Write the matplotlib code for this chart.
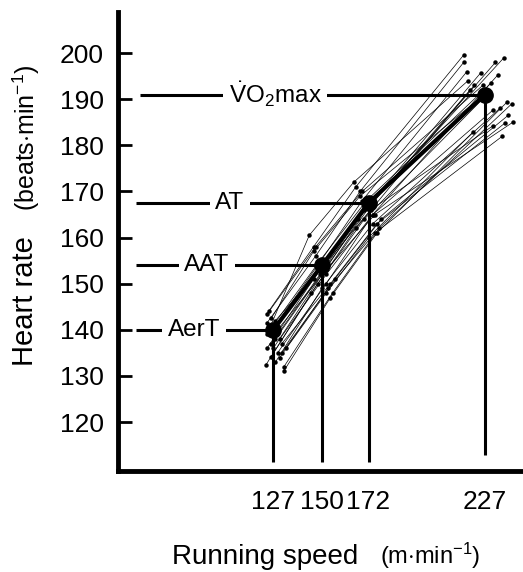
import matplotlib
matplotlib.use("Agg")
import matplotlib.pyplot as plt

plt.rcParams['font.family'] = ['Liberation Sans', 'DejaVu Sans']
plt.rcParams['mathtext.fontset'] = 'custom'
plt.rcParams['mathtext.rm'] = 'Liberation Sans'
plt.rcParams['mathtext.it'] = 'Liberation Sans:italic'

# mean thresholds
thresholds = ["AerT", "AAT", "AT", r"$\dot{\rm V}{\rm O}_2$max"]
speed = [127, 150, 172, 227]
hr = [140, 154, 167.5, 191]

# individual runners: speed and heart rate at AerT, AAT, AT, VO2max
subj_speed = [
    [124, 146, 166, 217],
    [124, 147, 168, 217],
    [125, 148, 169, 218.5],
    [126, 149, 170, 225],
    [128, 151, 173, 232],
    [127, 150, 172, 236],
    [129, 152, 174, 233],
    [124, 146, 167, 222],
    [123.5, 145, 166, 220],
    [132, 154, 176, 237.5],
    [132, 155, 177, 239.7],
    [130, 152, 174, 230.7],
    [131, 154, 176, 236.4],
    [129, 152, 175, 240.2],
    [128, 151, 173, 230.7],
    [131, 153, 175, 235.3],
    [130, 152, 172, 221.4],
    [126, 148, 170, 228],
    [125, 147, 169, 226],
    [127, 149, 171, 230],
    [124, 144, 165, 219],
    [128, 150, 174, 234],
    [133, 156, 178, 238],
    [126, 146, 168, 224],
]
subj_hr = [
    [143.5, 158, 171, 199.6],
    [141.5, 156, 170, 198],
    [139, 154, 168, 196],
    [137, 152, 166, 195.7],
    [138, 153, 167, 198],
    [136, 152, 167, 199],
    [135, 150, 165, 195.2],
    [136, 151, 164, 193],
    [132.4, 148, 162, 192],
    [131.1, 147, 161, 189.4],
    [132, 148, 162, 189],
    [138, 152, 165, 187.6],
    [137, 150, 163, 184.8],
    [140, 153, 165, 185],
    [142, 154, 166, 184.2],
    [135, 149, 161, 182],
    [134, 148, 160, 182.9],
    [134.2, 150, 164, 191],
    [144, 158, 170, 193],
    [141, 155, 168, 193.5],
    [139, 160.5, 172, 194],
    [133, 149, 163, 188],
    [136, 151, 164, 186.5],
    [142.5, 157, 169, 190],
]

# label placement (layout only)
label_x = [89.5, 95.6, 106.5, 127.8]
line_start = [62, 62, 62, 64]
drop_bottom = [111.3, 111.3, 111.3, 112.8]

fig = plt.figure(figsize=(5.23, 5.72), dpi=100)
ax = fig.add_axes([118 / 523, 101 / 572, 1 - 118 / 523, 459 / 572])

for xs, ys in zip(subj_speed, subj_hr):
    ax.plot(xs, ys, color='black', lw=0.5, marker='o', ms=2.2, zorder=2)

ax.plot(speed, hr, color='black', lw=3, zorder=3)
ax.plot(speed, hr, 'o', color='black', ms=11, zorder=4)

for i in range(4):
    ax.vlines(speed[i], drop_bottom[i], hr[i], color='black', lw=2.2, zorder=3)
    ax.hlines(hr[i], line_start[i], speed[i], color='black', lw=2.2, zorder=3)
    ax.text(label_x[i], hr[i], thresholds[i], fontsize=17.5, ha='center', va='center',
            bbox=dict(facecolor='white', edgecolor='none', pad=4), zorder=5)

ax.set_xlim(53.6, 245)
ax.set_ylim(109.4, 208.9)
ax.set_yticks(range(120, 201, 10))
ax.set_xticks(speed)
ax.tick_params(axis='y', direction='in', length=10, width=2, pad=10, labelsize=19)
ax.tick_params(axis='x', length=0, pad=14, labelsize=19)
for s in ['top', 'right']:
    ax.spines[s].set_visible(False)
for s in ['left', 'bottom']:
    ax.spines[s].set_linewidth(3.5)

fig.text(172 / 523, 0.014, "Running speed", fontsize=20, ha='left', va='baseline')
fig.text(380 / 523, 0.014, r"(m$\cdot$min$^{-1}$)", fontsize=17, ha='left', va='baseline')
fig.text(11 / 523, 0.474, "Heart rate", fontsize=21, rotation=90, ha='left', va='center')
fig.text(11 / 523, 0.76, r"(beats$\cdot$min$^{-1}$)", fontsize=18, rotation=90, ha='left', va='center')

fig.savefig("out.png", dpi=100)
